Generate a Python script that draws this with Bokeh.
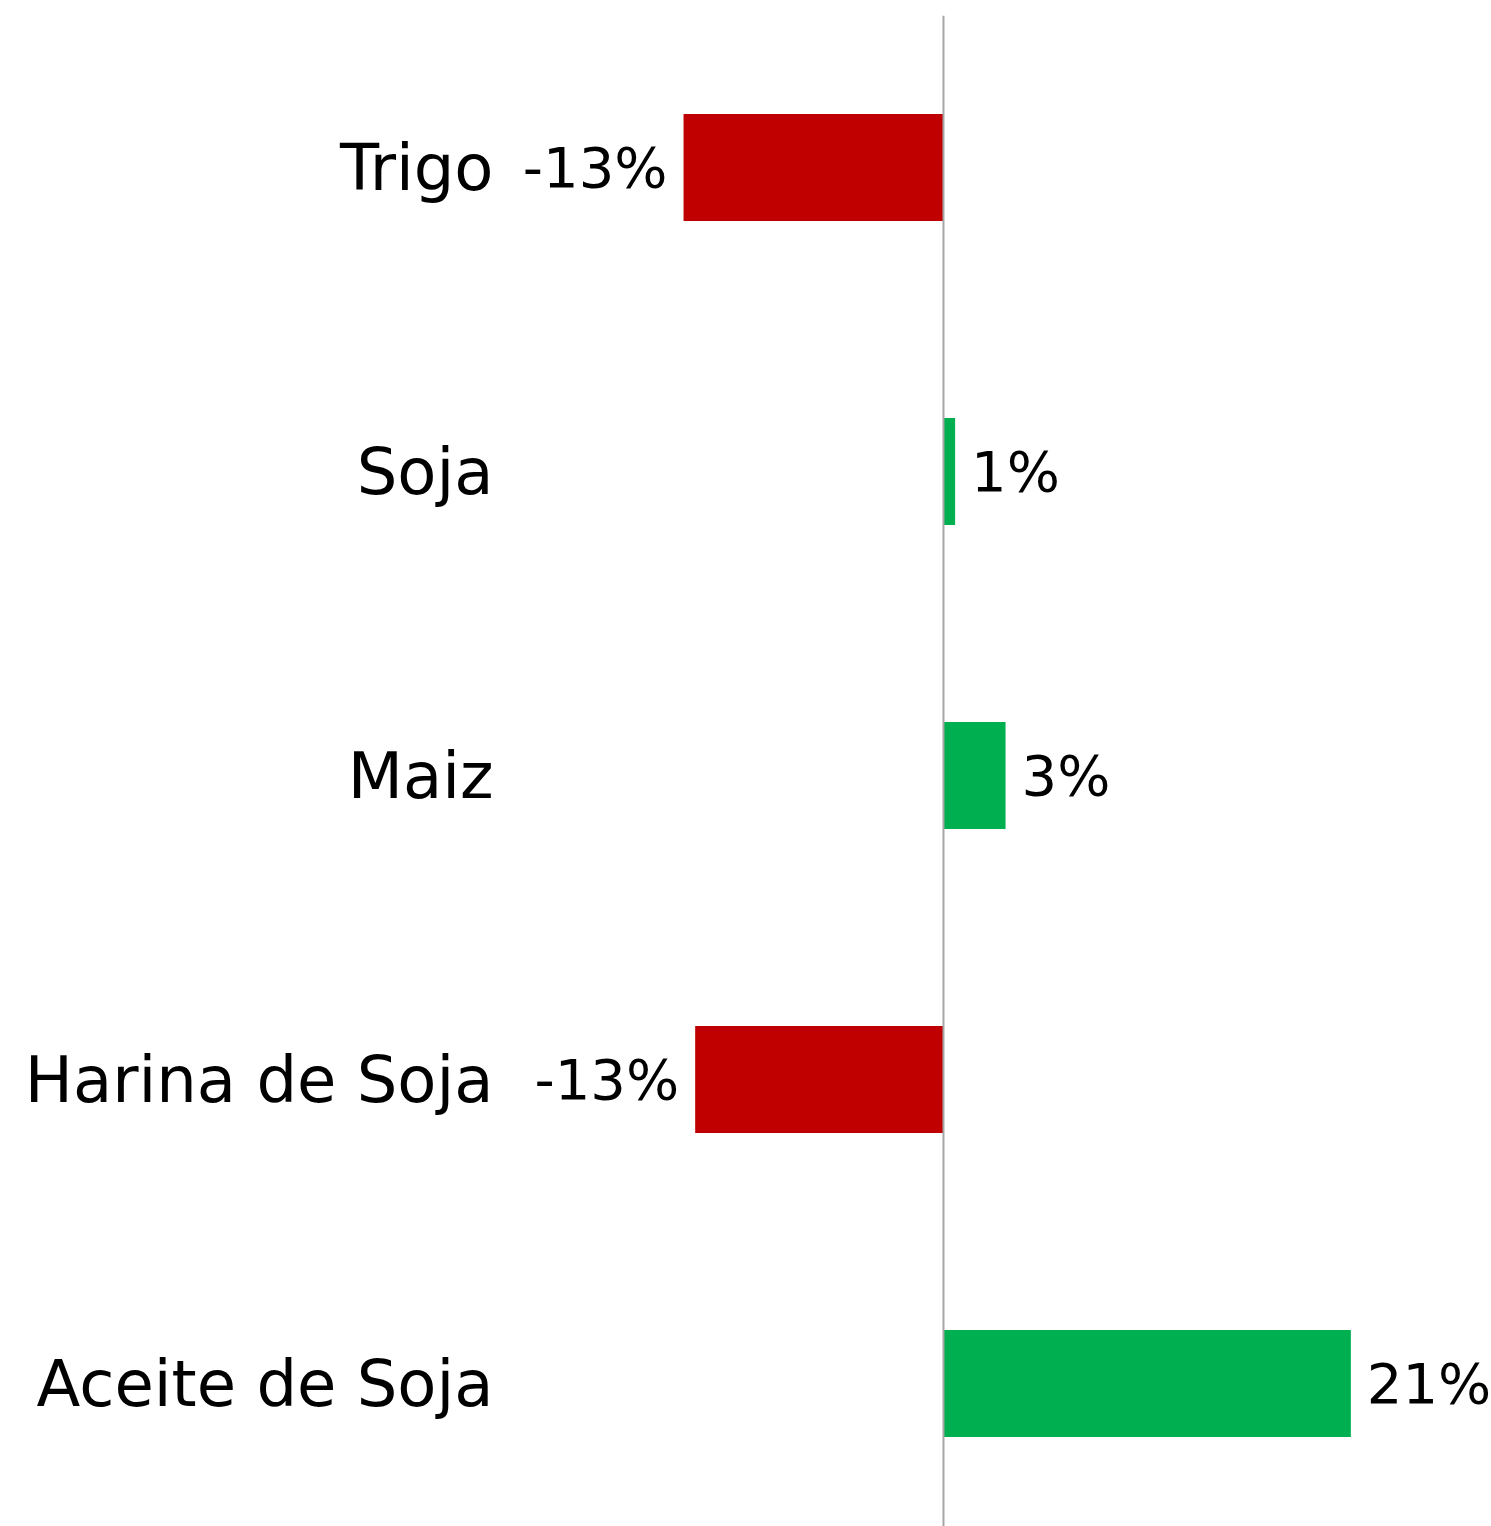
from bokeh.plotting import figure
from bokeh.models import Range1d, Span, ColumnDataSource, FixedTicker
from bokeh.core.properties import value
from bokeh.embed import file_html
from bokeh.resources import INLINE

categories = ["Trigo", "Soja", "Maiz", "Harina de Soja", "Aceite de Soja"]
values = [-13.4, 0.6, 3.2, -12.8, 21.0]
labels = ["-13%", "1%", "3%", "-13%", "21%"]

FONT = "DejaVu Sans"
RED = "#C00000"
GREEN = "#00B050"

idx = list(range(len(categories)))
colors = [RED if v < 0 else GREEN for v in values]

src = ColumnDataSource(dict(y=idx, v=values, color=colors, lab=labels))
pos = ColumnDataSource(dict(y=[i for i, v in zip(idx, values) if v >= 0],
                            v=[v for v in values if v >= 0],
                            lab=[l for l, v in zip(labels, values) if v >= 0]))
neg = ColumnDataSource(dict(y=[i for i, v in zip(idx, values) if v < 0],
                            v=[v for v in values if v < 0],
                            lab=[l for l, v in zip(labels, values) if v < 0]))

W, H = 1491, 1526
p = figure(width=W, height=H, output_backend="svg", toolbar_location=None,
           x_range=Range1d(-22.165, 28.25), y_range=Range1d(4.470, -0.5),
           min_border_left=513, min_border_right=0, min_border_top=15, min_border_bottom=0)
p.xaxis.visible = False
p.grid.visible = False
p.outline_line_color = None
p.background_fill_color = "white"
p.border_fill_color = "white"

p.hbar(y="y", left=0, right="v", height=0.352, color="color", source=src, line_color=None)

p.add_layout(Span(location=0, dimension="height", line_color="#A6A6A6", line_width=2))

p.text(x="v", y="y", text="lab", source=pos, x_offset=16, text_align="left",
       text_baseline="middle", text_font=value(FONT), text_font_size="56px", text_color="black")
p.text(x="v", y="y", text="lab", source=neg, x_offset=-16, text_align="right",
       text_baseline="middle", text_font=value(FONT), text_font_size="56px", text_color="black")

ax = p.yaxis[0]
ax.ticker = FixedTicker(ticks=idx)
ax.major_label_overrides = {i: c for i, c in zip(idx, categories)}
ax.axis_line_color = None
ax.major_tick_line_color = None
ax.minor_tick_line_color = None
ax.major_tick_out = 0
ax.major_tick_in = 0
ax.major_label_standoff = 20
ax.major_label_text_font = FONT
ax.major_label_text_font_size = "64px"
ax.major_label_text_color = "black"

open("out.html", "w").write(file_html(p, INLINE))
